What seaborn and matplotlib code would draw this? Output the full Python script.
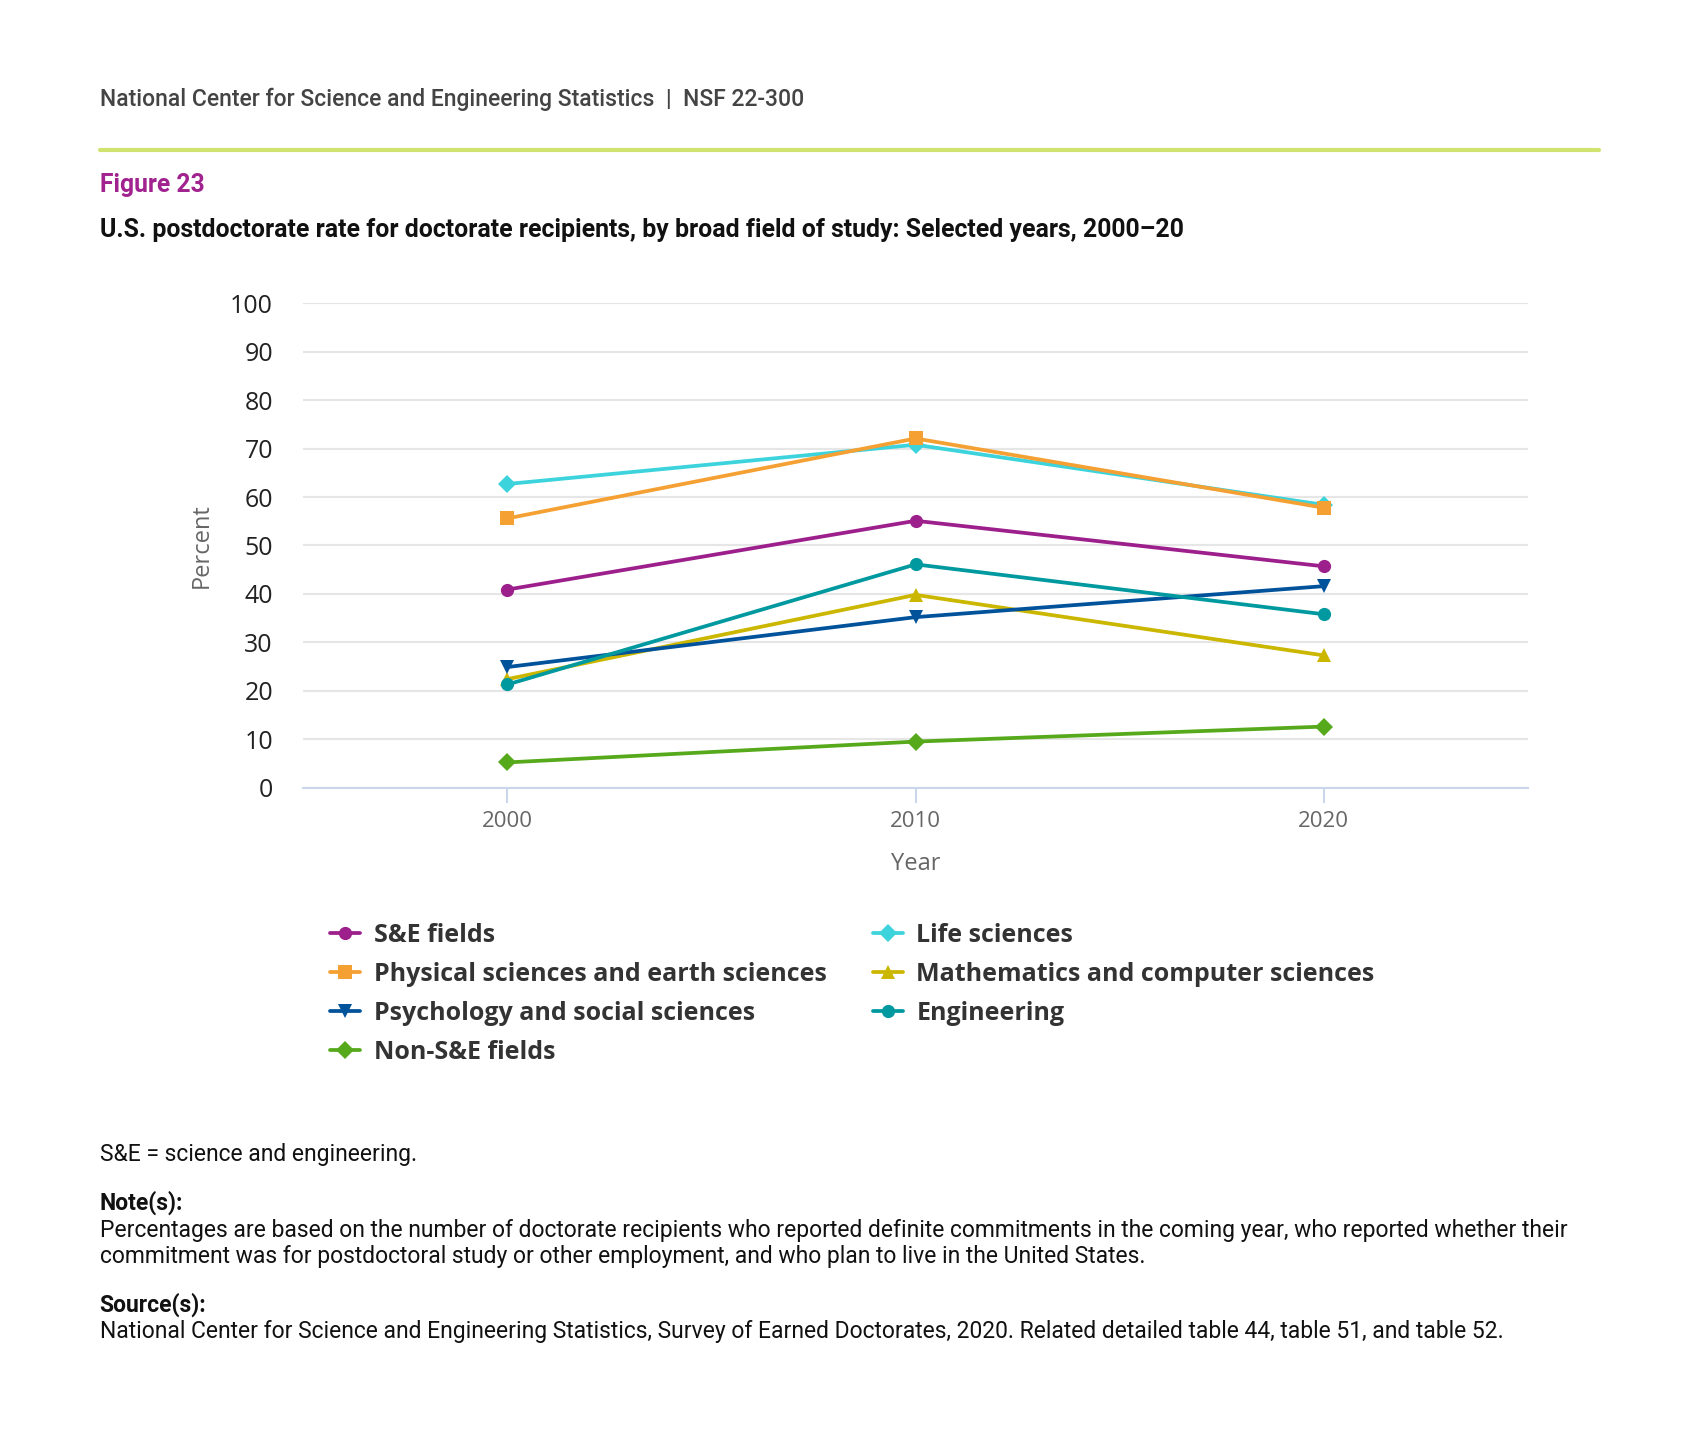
# nsf_fig23.py  -  postdoc rate by broad field, 2000-20
import pandas as pd
import matplotlib
matplotlib.use("Agg")
import matplotlib.pyplot as plt
import seaborn as sns

# -------------- DATA ---------------
YEARS = [2000, 2010, 2020]
FIELDS = ["S&E fields", "Life sciences", "Physical sciences and earth sciences",
          "Mathematics and computer sciences", "Psychology and social sciences",
          "Engineering", "Non-S&E fields"]
se_fields = [40.9, 55.1, 45.7]
life_sci = [62.7, 70.8, 58.4]
phys_sci = [55.6, 72.1, 57.8]
math_cs = [22.4, 39.8, 27.3]
psych_soc = [24.9, 35.2, 41.6]
engineering = [21.3, 46.1, 35.8]
non_se = [5.2, 9.5, 12.6]
Y_TICKS = list(range(0, 101, 10))

# -------------- STYLE ---------------
COLORS = {"S&E fields": "#9c1f8c", "Life sciences": "#3cd3dc",
          "Physical sciences and earth sciences": "#f5a032",
          "Mathematics and computer sciences": "#cbb700",
          "Psychology and social sciences": "#00529b",
          "Engineering": "#00999f", "Non-S&E fields": "#57a91c"}
MARKERS = {"S&E fields": "o", "Life sciences": "D",
           "Physical sciences and earth sciences": "s",
           "Mathematics and computer sciences": "^",
           "Psychology and social sciences": "v",
           "Engineering": "o", "Non-S&E fields": "D"}
BODY = ["Roboto", "DejaVu Sans"]
CHART = ["Open Sans", "DejaVu Sans"]

values = [se_fields, life_sci, phys_sci, math_cs, psych_soc, engineering, non_se]
rows = []
for field, vals in zip(FIELDS, values):
    for yr, v in zip(YEARS, vals):
        rows.append({"year": yr, "pct": v, "field": field})
df = pd.DataFrame(rows)

sns.set_theme(style="white")
plt.rcParams["font.family"] = CHART

fig = plt.figure(figsize=(16.99, 14.55), dpi=100)
ax = fig.add_axes([0.1786, 0.4587, 0.7206, 0.3328])

sns.lineplot(data=df, x="year", y="pct", hue="field", style="field",
             hue_order=FIELDS, style_order=FIELDS, palette=COLORS,
             markers=MARKERS, dashes=False, linewidth=2.7, markersize=9.5,
             markeredgewidth=0, ax=ax, legend="brief", clip_on=False)

ax.set_xlim(1995, 2025)
ax.set_ylim(0, 100)
ax.set_xticks(YEARS)
ax.set_yticks(Y_TICKS)
ax.grid(axis="y", color="#e6e6e6", linewidth=1.5)
ax.grid(axis="x", visible=False)
ax.set_axisbelow(True)
for side in ["top", "right", "left"]:
    ax.spines[side].set_visible(False)
ax.spines["bottom"].set_color("#ccd6eb")
ax.spines["bottom"].set_linewidth(1.5)
ax.tick_params(axis="x", colors="#ccd6eb", length=11, width=1.5,
               labelcolor="#666666", labelsize=16, pad=6, direction="out",
               bottom=True)
ax.tick_params(axis="y", length=0, labelcolor="#222222", labelsize=18, pad=22)
ax.set_xlabel("Year", fontsize=17, color="#666666", labelpad=14)
ax.set_ylabel("Percent", fontsize=17, color="#666666", labelpad=12)

# legend in row-major order like the original
handles, labels = ax.get_legend_handles_labels()
hmap = dict(zip(labels, handles))
order = ["S&E fields", "Physical sciences and earth sciences",
         "Psychology and social sciences", "Non-S&E fields",
         "Life sciences", "Mathematics and computer sciences", "Engineering"]
ax.get_legend().remove()
leg = fig.legend([hmap[k] for k in order], order, ncol=2, frameon=False,
                 loc="upper left", bbox_to_anchor=(0.187, 0.3745),
                 prop={"family": CHART, "weight": "bold", "size": 18},
                 labelcolor="#333333", handlelength=1.2, handletextpad=0.55,
                 labelspacing=0.56, columnspacing=1.83, borderpad=0)

# -------------- TEXT ---------------
fig.text(0.0587, 0.9315, "National Center for Science and Engineering Statistics  |  NSF 22-300",
         family=BODY, fontsize=16.5, fontweight="medium", color="#444444", va="center")
fig.add_artist(plt.Line2D([0.0587, 0.9413], [0.8972, 0.8972], color="#d0e36e",
                          linewidth=3))
fig.text(0.0587, 0.8727, "Figure 23", family=BODY, fontsize=17.7,
         fontweight="bold", color="#a1238f", va="center")
fig.text(0.0587, 0.8421,
         "U.S. postdoctorate rate for doctorate recipients, by broad field of study: Selected years, 2000\u201320",
         family=BODY, fontsize=17.95, fontweight="bold", color="#111111", va="center")

NOTE_FS = 16.5
fig.text(0.0587, 0.2063, "S&E = science and engineering.", family=BODY,
         fontsize=NOTE_FS, color="#111111", va="center")
fig.text(0.0587, 0.1735, "Note(s):", family=BODY, fontsize=NOTE_FS,
         fontweight="bold", color="#111111", va="center")
fig.text(0.0587, 0.1541,
         "Percentages are based on the number of doctorate recipients who reported definite commitments in the coming year, who reported whether their",
         family=BODY, fontsize=NOTE_FS, color="#111111", va="center")
fig.text(0.0587, 0.1363,
         "commitment was for postdoctoral study or other employment, and who plan to live in the United States.",
         family=BODY, fontsize=NOTE_FS, color="#111111", va="center")
fig.text(0.0587, 0.1035, "Source(s):", family=BODY, fontsize=NOTE_FS,
         fontweight="bold", color="#111111", va="center")
fig.text(0.0587, 0.0849,
         "National Center for Science and Engineering Statistics, Survey of Earned Doctorates, 2020. Related detailed table 44, table 51, and table 52.",
         family=BODY, fontsize=NOTE_FS, color="#111111", va="center")

fig.savefig("out.png", dpi=100, facecolor="white")
print("saved out.png")
